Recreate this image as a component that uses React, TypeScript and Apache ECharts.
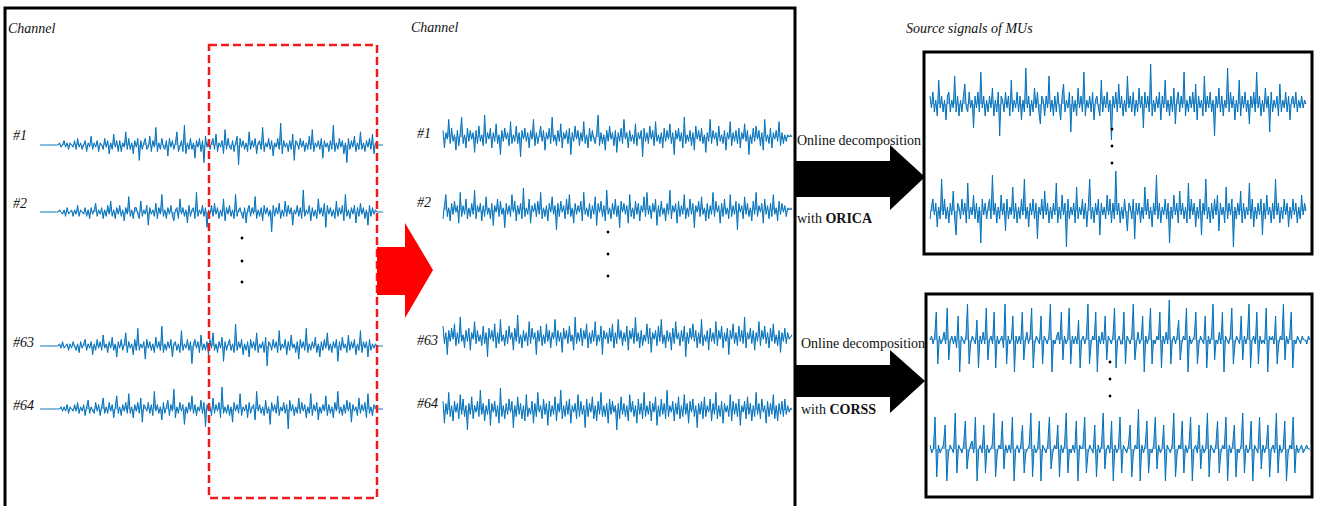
import React, { useEffect, useRef } from "react";
import * as echarts from "echarts";

// ---- Raw EMG (left panel), channels #1, #2, #63, #64 ----
const left1 = [0,0,0,0,0,0,0,0,0,0,0,0,0,
1,-1,0,2,-1,1,-2,1,0,-1,2,-2,3,-1,1,-2,0,2,-3,1,-1,4,-2,1,-1,2,-3,1,0,-2,3,-1,2,-4,1,-2,5,-1,2,-3,
2,-3,1,-1,6,-2,3,-2,1,-4,2,-1,3,-7,2,-2,1,3,-2,-1,
4,-3,2,-1,8,-3,1,-2,3,-1,-2,2,-5,3,-1,2,-2,1,6,-3,
-1,2,-3,9,-4,1,-2,3,-2,1,-6,2,-1,3,-3,2,-8,4,-1,2,
-2,1,3,-2,5,-3,1,-1,2,-4,7,-2,3,-1,-2,2,-3,1,4,-9,
3,-1,2,-2,1,-3,6,-2,2,-1,3,-4,1,2,-2,8,-3,1,-1,3,
-2,2,-5,1,-1,3,-2,10,-4,2,-1,1,-3,2,-2,5,-7,2,1,-2,
3,-1,2,-3,1,-2,4,-2,7,-3,1,-1,2,-2,3,-6,2,-1,1,-3,
2,-2,9,-3,1,-2,3,-1,2,-4,1,-8,3,-2,2,-1,4,-3,1,-2,
6,-2,1,-3,2,-1,3,-2,5,-4,
1,-1,0,0,0,0];
const left2 = [0,0,0,0,0,0,0,0,0,0,0,0,0,
1,0,-1,1,-2,2,-1,0,1,-2,1,-1,3,-2,1,0,-1,2,-2,1,-3,2,-1,1,4,-2,1,-1,2,-3,1,-2,3,-1,5,-2,1,-3,2,-1,
3,-2,1,-4,2,-1,7,-2,1,-3,2,2,-1,-3,5,-2,1,-1,3,-6,
2,-1,1,-2,4,-3,2,-1,8,-2,1,-3,2,-1,3,-2,-4,1,2,-3,
6,-1,2,-2,1,-5,3,-2,1,2,-3,9,-2,1,-1,3,-2,2,-7,1,
-1,3,-2,4,-1,2,-3,1,-2,6,-4,2,-1,3,-2,1,-3,8,-2,1,
2,-1,-3,2,-5,1,3,-2,2,-1,7,-3,1,-2,2,-4,3,-1,2,-2,
1,-9,3,-2,2,-1,4,-3,1,-2,5,-2,3,-1,2,-6,1,-1,3,-2,
2,-3,10,-2,1,-1,3,-4,2,-2,1,-3,6,-1,2,-2,4,-7,3,-1,
2,-2,1,-3,5,-2,2,-1,3,-4,8,-2,1,-3,2,-1,3,-5,2,-2,
4,-1,2,-3,1,-6,3,-2,2,-1,
1,0,0,0,0,0];
const left63 = [0,0,0,0,0,0,0,0,0,0,0,0,0,
1,-1,2,-1,0,1,-2,1,-1,2,0,-2,1,-3,2,-1,1,3,-2,1,-1,2,-4,1,-2,3,-1,2,-2,5,-1,1,-3,2,-1,4,-2,1,-5,2,
-1,3,-2,1,6,-3,2,-1,1,-4,3,-2,8,-2,1,-1,2,-6,3,-1,
2,-2,1,-3,4,-1,2,-2,9,-3,1,-2,2,-1,3,-5,1,2,-2,1,
-3,7,-2,1,-1,3,-2,2,-8,1,3,-1,2,-3,5,-2,1,-2,2,-4,
3,-1,6,-2,1,-3,2,-1,4,-7,2,-2,1,3,-2,1,-3,10,-2,2,
-1,3,-4,1,-2,2,-5,3,-1,2,-2,6,-3,1,-1,2,-3,4,-9,2,
1,-2,3,-1,2,-3,7,-2,1,-1,3,-4,2,-2,5,-1,1,-3,2,-6,
3,-1,2,-2,8,-3,1,-2,2,-1,4,-3,1,-5,2,-2,3,-1,6,-2,
1,-3,2,-1,3,-7,2,-2,4,-1,1,-3,5,-2,2,-1,3,-4,1,-2,
7,-3,2,-1,2,-5,3,-2,1,-1,
1,0,0,0,0,0];
const left64 = [0,0,0,0,0,0,0,0,0,0,0,0,0,
0,1,-1,1,-1,2,-2,1,0,-1,2,-1,3,-2,1,-1,2,-3,1,4,-2,1,-1,-2,3,-1,2,-3,1,5,-2,1,-2,3,-1,2,-4,1,6,-2,
1,-3,2,-1,3,-2,7,-2,1,-4,2,-1,3,-2,5,-6,2,1,-1,3,
-2,2,-3,8,-1,2,-2,1,-5,3,-2,1,4,-3,2,-1,9,-4,1,-2,
3,-1,2,-7,1,-2,3,-1,6,-2,2,-3,1,-1,4,-2,3,-8,2,-1,
1,-3,5,-2,2,-1,3,-4,10,-2,1,-2,2,-3,1,-6,3,-1,2,-2,
7,-3,1,-1,2,-4,3,-2,1,2,-5,8,-1,2,-2,1,-3,4,-2,1,
-7,3,-1,2,-2,6,-3,1,-1,3,-2,2,-9,4,-1,2,-3,1,-2,5,
-2,3,-1,2,-4,1,-2,7,-3,2,-1,3,-5,1,-2,2,-1,6,-3,2,
-2,1,-4,3,-1,8,-2,1,-3,2,-2,4,-1,3,-6,2,-1,1,-3,5,
-2,2,-1,3,-4,7,-2,1,-3,2,
1,-1,0,0,0,0];

// ---- Selected window (middle panel) ----
const mid1 = [3,-5,2,-1,8,-3,4,-2,1,-6,3,-4,2,9,-3,1,-5,4,-2,3,
-1,2,-7,3,-3,5,-2,1,-4,10,-3,2,-1,4,-5,2,-2,6,-3,1,
-8,3,-2,4,-1,2,-4,7,-3,1,-2,5,-3,2,-9,3,-1,4,-2,2,
-5,3,-1,8,-4,2,-3,1,5,-2,3,-6,2,-1,4,-3,9,-2,1,-4,
3,-2,6,-5,2,-1,3,-3,4,-8,2,-2,5,-1,3,-4,2,-2,7,-3,
1,-5,4,-2,3,-1,-3,2,10,-4,2,-3,1,-6,3,-2,5,-1,2,-4,
3,-7,2,-2,4,-3,8,-1,2,-5,3,-2,1,-3,6,-4,2,-1,3,-9,
4,-2,2,-3,5,-1,3,-4,7,-2,1,-3,2,-5,4,-2,3,-1,6,-3,
2,-8,3,-1,4,-2,2,-5,9,-3,1,-2,3,-4,2,-6,5,-1,3,-2,
4,-3,1,-7,2,-2,8,-3,3,-1,2,-4,5,-2,1,-3,3,-6,2,-1,
7,-4,2,-2,3,-3,4,-5,2,-1,6,-2,3,-8,1,-3,4,-2,5,-1,
3,-4,2,-6,8,-2,1,-3,4,-5,2,-1,3,-2,7,-4,2,-3,1,-2,
1,0,1,0];
const mid2 = [-4,2,7,-3,1,-5,3,-2,4,-1,2,-6,8,-3,2,-2,5,-4,1,-3,
3,-2,9,-4,2,-1,3,-5,2,-3,6,-2,1,-4,3,-7,2,-1,5,-3,
4,-2,1,-8,3,-2,2,-3,7,-1,4,-5,2,-2,3,-4,10,-3,1,-2,
5,-6,2,-1,3,-3,4,-2,8,-4,1,-3,2,-5,3,-1,6,-2,2,-9,
3,-3,4,-1,2,-4,5,-2,7,-3,1,-6,3,-2,2,-1,4,-5,8,-2,
1,-3,3,-4,2,-2,6,-7,3,-1,4,-3,2,-5,9,-2,1,-4,3,-2,
5,-3,2,-8,4,-1,3,-2,2,-6,7,-3,1,-4,4,-2,3,-5,2,-1,
6,-3,8,-2,2,-4,3,-1,5,-7,2,-3,4,-2,1,-5,3,-2,9,-4,
2,-1,3,-6,4,-3,2,-2,7,-4,1,-3,5,-2,3,-8,2,-1,4,-3,
6,-2,1,-5,3,-4,2,-2,8,-3,4,-1,2,-6,3,-3,5,-2,1,-4,
7,-3,2,-2,4,-9,3,-1,2,-4,6,-2,3,-3,1,-5,4,-2,8,-3,
2,-1,3,-6,5,-2,2,-4,3,-3,7,-2,1,-5,4,-2,3,-1,2,-3,
1,0,1,0];
const mid63 = [5,-3,2,-8,3,-2,4,-1,6,-4,2,-3,9,-2,1,-5,3,-2,4,-6,
2,-1,7,-3,3,-2,1,-4,5,-3,2,-9,4,-1,3,-2,6,-5,2,-3,
8,-2,1,-4,3,-3,5,-1,2,-6,4,-2,10,-3,1,-5,3,-2,2,-4,
7,-3,4,-1,2,-8,3,-2,5,-4,1,-3,6,-2,3,-5,2,-1,8,-4,
3,-2,2,-7,4,-1,3,-3,5,-2,1,-6,9,-3,2,-2,4,-4,3,-1,
6,-5,2,-3,3,-2,7,-4,1,-2,5,-8,3,-1,2,-3,4,-2,6,-5,
2,-3,8,-1,3,-4,2,-2,5,-6,3,-1,4,-3,9,-2,2,-5,3,-4,
1,-2,6,-3,4,-7,2,-1,3,-4,5,-2,8,-3,1,-5,3,-2,2,-6,
4,-3,7,-1,2,-4,3,-2,5,-9,2,-3,4,-1,6,-2,3,-5,2,-3,
8,-4,1,-2,3,-6,4,-2,2,-3,7,-4,3,-1,5,-5,2,-2,4,-8,
3,-1,6,-3,2,-4,5,-2,3,-3,9,-5,2,-1,4,-3,3,-6,2,-2,
7,-4,3,-1,5,-3,2,-5,4,-2,6,-3,1,-4,3,-7,2,-2,4,-3,
2,-1,0,1];
const mid64 = [4,-6,3,-2,8,-3,2,-5,4,-1,3,-4,7,-2,5,-3,2,-9,3,-2,
6,-4,2,-1,4,-3,9,-2,3,-5,2,-2,5,-7,3,-1,4,-3,2,-6,
10,-3,2,-4,3,-2,5,-1,4,-8,2,-3,6,-2,3,-4,2,-5,7,-3,
1,-2,4,-6,3,-3,8,-1,2,-4,5,-2,3,-7,4,-3,2,-2,6,-5,
3,-1,9,-4,2,-3,4,-2,5,-6,2,-1,3,-4,7,-3,4,-2,2,-8,
5,-3,3,-1,6,-4,2,-5,4,-2,8,-3,2,-3,3,-6,5,-2,4,-1,
2,-9,3,-4,6,-2,3,-3,2,-5,7,-1,4,-3,2,-6,5,-2,3,-4,
8,-3,2,-2,4,-5,3,-1,6,-7,2,-3,5,-2,3,-4,9,-3,2,-1,
4,-5,3,-2,6,-4,2,-3,7,-2,3,-6,4,-1,5,-3,2,-8,3,-2,
4,-4,6,-3,2,-1,5,-5,3,-2,8,-4,2,-3,4,-6,3,-1,2,-3,
7,-5,4,-2,3,-3,5,-7,2,-1,4,-4,6,-2,3,-5,2,-3,8,-2,
3,-4,5,-1,2,-6,4,-3,3,-2,7,-4,2,-5,3,-2,4,-3,5,-2,
2,-1,1,0];

// ---- Source signals of MUs: ORICA ----
const orica1 = [2,-1,3,-2,1,-3,6,-1,2,-2,1,-4,2,3,-2,1,-1,7,-2,2,
-3,1,-2,2,5,-1,-2,3,-1,1,-6,2,-1,3,-2,8,-1,2,-3,1,
-2,2,-1,4,-3,1,-2,3,-8,2,1,-2,3,-1,2,-3,6,-2,1,-1,
3,-2,2,-4,1,-2,9,-1,2,-3,1,-2,4,-1,3,-2,-5,2,1,-3,
2,-1,7,-2,1,-3,2,-2,3,-1,-4,2,5,-2,1,-1,3,-7,2,-2,
1,-3,4,-1,2,-2,8,-3,1,-1,2,-2,3,-4,1,2,-1,-3,6,-2,
2,-1,3,-2,1,-9,2,-1,3,-2,5,-1,2,-3,1,-2,7,-1,2,-2,
3,-3,1,-2,4,-1,2,-6,3,-1,2,-2,10,-3,1,-2,2,-1,3,-4,
2,-1,6,-2,1,-3,2,-2,4,-5,1,3,-2,2,-1,8,-3,1,-2,2,
-1,3,-2,5,-4,2,-1,1,-3,7,-2,2,-1,3,-2,1,-8,2,-1,4,
-2,2,-3,1,-1,9,-2,3,-1,2,-4,1,-2,6,-3,2,-1,3,-2,1,
-5,2,-1,3,-2,8,-1,2,-3,1,-2,4,-1,2,-7,3,-2,1,-1,2,
-3,5,-2,1,-1,3,-2,2,-4,1,2,-1,3,-2,1,-1,2,-1,1,0];
const orica2 = [-2,1,3,-1,2,-4,1,-2,8,-1,3,-2,1,-3,2,-1,5,-2,-6,2,
1,-2,3,-1,2,-3,7,-2,1,-1,4,-2,2,-3,1,-8,3,-1,2,-2,
1,3,-2,9,-1,2,-3,1,-2,4,-1,2,-5,3,-2,1,-1,6,-2,2,
-3,1,-2,3,-1,8,-2,1,-4,2,-1,3,-2,2,-7,1,-1,3,-2,5,
-1,2,-3,1,-2,2,-1,7,-3,1,-2,4,-1,2,-9,3,-2,1,-1,2,
-3,6,-2,1,-1,3,-2,2,-4,1,8,-2,1,-3,2,-1,3,-6,2,-1,
1,-2,4,-1,3,-3,2,-2,10,-1,2,-3,1,-2,3,-1,-5,2,1,-2,
3,-7,2,-1,2,-3,1,-2,6,-1,3,-2,1,-4,2,-1,9,-2,2,-3,
1,-1,3,-2,2,-8,1,-2,4,-1,2,-3,5,-1,2,-2,1,-3,7,-2,
3,-1,2,-4,1,-2,3,-6,2,-1,8,-2,1,-3,2,-2,3,-1,4,-5,
2,-1,1,-3,6,-2,2,-1,3,-9,1,-2,2,-1,5,-3,2,-2,1,-1,
7,-2,3,-4,1,-2,2,-1,3,-6,2,-2,4,-1,1,-3,2,-2,8,-1,
2,-3,1,-2,3,-1,2,-4,1,-2,3,-1,2,-3,1,-2,4,-1,2,0];

// ---- Source signals of MUs: CORSS (spike trains) ----
const corss1 = [0,1,-1,1,7,-6,1,-1,0,2,-1,8,-5,0,1,-1,1,-2,6,-8,1,0,-1,1,9,-6,
-1,1,0,-1,5,-7,1,-1,2,-1,8,-5,0,1,-1,7,-7,1,-1,0,1,-2,9,-6,1,
-1,0,6,-8,1,-1,1,-1,7,-5,0,2,-1,1,8,-7,-1,1,0,-1,6,-6,1,0,-1,
1,9,-8,0,-1,1,2,-1,7,-5,1,-1,0,8,-6,1,-1,1,-1,5,-7,0,1,-1,1,
9,-6,-1,1,0,7,-8,1,-1,2,-1,6,-5,1,0,-1,1,8,-7,0,1,-1,-1,7,
-6,1,0,-1,1,9,-5,-1,2,-1,0,6,-8,1,-1,1,8,-6,0,-1,1,0,7,-7,
1,-1,2,-1,10,-6,0,1,-1,1,5,-5,-1,1,0,8,-8,1,-1,0,1,7,-6,-1,
1,0,-1,6,-7,1,-1,1,9,-5,0,-1,2,-1,7,-8,1,0,-1,1,8,-6,-1,1,
0,-1,6,-5,1,-1,1,9,-7,0,1,-1,7,-6,1,-1,0,-1,8,-8,1,0,1,-1,
6,-6,-1,1,0,9,-5,1,-1,1,7,-7,0,-1,1,0,-1,1,0,0,-1,1,0];
const corss2 = [1,-1,0,8,-7,1,-1,0,1,6,-8,-1,1,0,-1,9,-6,1,0,-1,1,7,-5,-1,1,
2,-1,8,-8,0,1,-1,6,-6,1,-1,0,1,9,-7,-1,1,0,7,-5,1,-1,1,-1,8,
-8,0,1,-1,1,6,-6,-1,0,1,9,-7,1,-1,0,7,-8,1,0,-1,1,8,-5,-1,1,
0,6,-7,1,-1,1,9,-6,0,-1,1,-1,7,-8,1,0,1,8,-6,-1,1,0,-1,6,-7,
1,-1,1,9,-5,0,1,-1,7,-8,1,-1,0,8,-6,1,0,-1,1,6,-7,-1,1,0,10,
-8,1,-1,1,7,-6,0,-1,1,8,-5,1,-1,0,6,-8,1,0,-1,1,9,-7,-1,1,0,
7,-6,1,-1,1,8,-8,0,1,-1,6,-5,1,-1,0,9,-7,1,0,-1,1,7,-6,-1,1,
0,8,-8,1,-1,1,6,-7,0,-1,1,9,-6,1,-1,0,7,-8,1,0,-1,8,-5,1,-1,
1,6,-7,0,1,-1,9,-6,1,-1,0,7,-8,-1,1,0,8,-6,1,-1,0,1,-1,0,1,0,0];

const channelLabels = ["#1", "#2", "#63", "#64"];

const SERIF = "Liberation Serif";
const BLUE = "#0072BD";

function txt(text: string, x: number, y: number, size: number, italic: boolean, extra: any = {}) {
  return {
    type: "text",
    z: 20,
    style: {
      text, x, y,
      fontFamily: SERIF,
      fontSize: size,
      fontStyle: italic ? "italic" : "normal",
      fill: "#111",
      verticalAlign: "middle",
      ...extra,
    },
  };
}

export default function App() {
  const ref = useRef<HTMLDivElement>(null);

  useEffect(() => {
    document.body.style.margin = "0";
    const chart = echarts.init(ref.current!, null, { renderer: "svg" });

    const panels = [
      { data: left1, left: 40, width: 343, cy: 145, half: 22 },
      { data: left2, left: 40, width: 343, cy: 212, half: 22 },
      { data: left63, left: 40, width: 343, cy: 346, half: 22 },
      { data: left64, left: 40, width: 343, cy: 409, half: 22 },
      { data: mid1, left: 443, width: 349, cy: 137, half: 22 },
      { data: mid2, left: 443, width: 349, cy: 210, half: 22 },
      { data: mid63, left: 443, width: 349, cy: 337, half: 22 },
      { data: mid64, left: 443, width: 349, cy: 410, half: 22 },
      { data: orica1, left: 930, width: 376, cy: 104, half: 40 },
      { data: orica2, left: 930, width: 376, cy: 211, half: 40 },
      { data: corss1, left: 930, width: 380, cy: 340, half: 40 },
      { data: corss2, left: 930, width: 380, cy: 449, half: 40 },
    ];

    const leftLabelY = [135, 203, 342, 405];
    const midLabelY = [133, 202, 340, 403];

    const labels: any[] = [];
    channelLabels.forEach((t, i) => {
      labels.push(txt(t, 13, leftLabelY[i], 14, true));
      labels.push(txt(t, 417, midLabelY[i], 14, true));
    });

    const dots = [
      [242, 238], [242, 261], [242, 282],
      [608, 232], [608, 254], [608, 276],
      [1112, 129], [1112, 146], [1112, 163],
      [1110, 362], [1110, 379], [1110, 396],
    ].map(([cx, cy]) => ({ type: "circle", z: 20, shape: { cx, cy, r: 1.4 }, style: { fill: "#000" } }));

    const boldRich = { b: { fontFamily: SERIF, fontSize: 14, fontWeight: "bold", fill: "#111" } };

    const option: any = {
      animation: false,
      backgroundColor: "#ffffff",
      grid: panels.map((p) => ({ left: p.left, top: p.cy - p.half, width: p.width, height: 2 * p.half })),
      xAxis: panels.map((p, i) => ({ type: "value", gridIndex: i, min: 0, max: p.data.length - 1, show: false })),
      yAxis: panels.map((p, i) => ({ type: "value", gridIndex: i, min: -10, max: 10, show: false })),
      series: panels.map((p, i) => ({
        type: "line",
        xAxisIndex: i,
        yAxisIndex: i,
        data: p.data.map((v, j) => [j, v]),
        symbol: "none",
        showSymbol: false,
        clip: false,
        silent: true,
        lineStyle: { color: BLUE, width: 1, opacity: 1 },
        areaStyle: { color: "#1f6fb5", opacity: 0.55, origin: 0 },
      })),
      graphic: [
        { type: "rect", z: 15, shape: { x: 5, y: 8, width: 790, height: 520 }, style: { fill: "none", stroke: "#000", lineWidth: 3 } },
        { type: "rect", z: 15, shape: { x: 924, y: 52, width: 388, height: 202 }, style: { fill: "none", stroke: "#000", lineWidth: 3 } },
        { type: "rect", z: 15, shape: { x: 926, y: 294, width: 386, height: 203 }, style: { fill: "none", stroke: "#000", lineWidth: 3 } },
        { type: "rect", z: 16, shape: { x: 209, y: 45, width: 168, height: 453 }, style: { fill: "none", stroke: "#EE1C1C", lineWidth: 2.5, lineDash: [8, 4] } },
        { type: "polygon", z: 16, shape: { points: [[377, 247], [405, 247], [405, 223], [433, 270], [405, 318], [405, 295], [377, 295]] }, style: { fill: "#FF0000" } },
        { type: "polygon", z: 16, shape: { points: [[796, 161], [890, 161], [890, 145], [925, 177], [890, 210], [890, 197], [796, 197]] }, style: { fill: "#000" } },
        { type: "polygon", z: 16, shape: { points: [[796, 365], [890, 365], [890, 350], [925, 381], [890, 413], [890, 397], [796, 397]] }, style: { fill: "#000" } },
        txt("Channel", 8, 28, 14, true),
        txt("Channel", 411, 27, 14, true),
        txt("Source signals of MUs", 906, 28, 14, true),
        txt("Online decomposition", 797, 140, 14, false),
        txt("with {b|ORICA}", 797, 218, 14, false, { rich: boldRich }),
        txt("Online decomposition", 801, 343, 14, false),
        txt("with {b|CORSS}", 801, 409, 14, false, { rich: boldRich }),
        ...labels,
        ...dots,
      ],
    };

    chart.setOption(option);
    return () => chart.dispose();
  }, []);

  return <div ref={ref} style={{ width: 1318, height: 506 }} />;
}
